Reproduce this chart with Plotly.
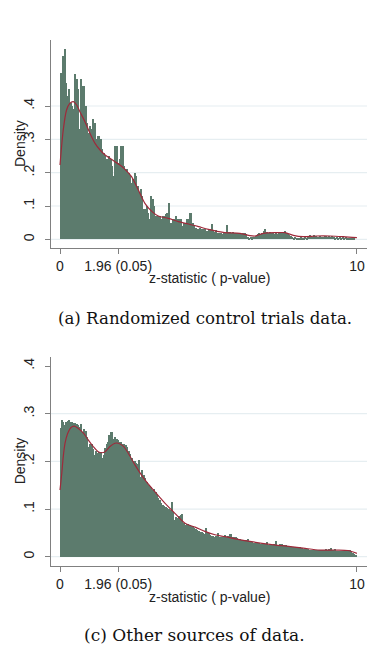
import plotly.graph_objects as go

# ---------------- data ----------------
bin_width = 0.05  # histogram bin width (z units)

# (a) Randomized control trials: histogram densities, bins of 0.05 from 0 to 10
rct_bars = [
    0.50, 0.46, 0.55, 0.57, 0.47, 0.43, 0.45, 0.41, 0.40, 0.39,
    0.495, 0.48, 0.45, 0.33, 0.48, 0.46, 0.46, 0.40, 0.35, 0.32,
    0.34, 0.33, 0.36, 0.35, 0.30, 0.31, 0.31, 0.30, 0.27, 0.26,
    0.25, 0.24, 0.20, 0.25, 0.24, 0.22, 0.19, 0.28, 0.28, 0.23,
    0.24, 0.28, 0.28, 0.22, 0.21, 0.21, 0.20, 0.19, 0.17, 0.18,
    0.20, 0.19, 0.16, 0.14, 0.15, 0.13, 0.09, 0.09, 0.10, 0.08,
    0.06, 0.13, 0.12, 0.10, 0.07, 0.05, 0.07, 0.07, 0.06, 0.07,
    0.07, 0.075, 0.08, 0.11, 0.05, 0.05, 0.06, 0.06, 0.07, 0.06,
    0.06, 0.06, 0.04, 0.05, 0.05, 0.06, 0.06, 0.08, 0.08, 0.05,
    0.04, 0.035, 0.03, 0.03, 0.035, 0.03, 0.03, 0.03, 0.025, 0.025,
    0.03, 0.03, 0.045, 0.025, 0.022, 0.028, 0.018, 0.018, 0.02, 0.015,
    0.018, 0.02, 0.043, 0.022, 0.023, 0.02, 0.022, 0.02, 0.018, 0.02,
    0.018, 0.018, 0.015, 0.02, 0.018, 0.016, 0.008, 0.005, 0.006, 0.005,
    0.008, 0.006, 0.01, 0.015, 0.018, 0.017, 0.02, 0.025, 0.03, 0.022,
    0.02, 0.022, 0.018, 0.02, 0.016, 0.018, 0.017, 0.02, 0.022, 0.02,
    0.023, 0.025, 0.02, 0.015, 0.012, 0.01, 0.008, 0.005, 0.006, 0.004,
    0.005, 0.003, 0.006, 0.004, 0.005, 0.006, 0.004, 0.009, 0.012, 0.01,
    0.008, 0.012, 0.01, 0.008, 0.006, 0.01, 0.008, 0.006, 0.01, 0.009,
    0.006, 0.01, 0.008, 0.009, 0.006, 0.005, 0.006, 0.005, 0.006, 0.005,
    0.006, 0.005, 0.006, 0.004, 0.005, 0.004, 0.005, 0.003, 0.002, 0.0,
]

# (c) Other sources of data: histogram densities, bins of 0.05 from 0 to 10
other_bars = [
    0.27, 0.287, 0.283, 0.276, 0.283, 0.285, 0.287, 0.283, 0.283, 0.281,
    0.281, 0.280, 0.276, 0.272, 0.280, 0.262, 0.268, 0.265, 0.252, 0.230,
    0.238, 0.236, 0.226, 0.213, 0.222, 0.218, 0.220, 0.220, 0.207, 0.213,
    0.228, 0.236, 0.241, 0.255, 0.262, 0.262, 0.248, 0.252, 0.248, 0.245,
    0.241, 0.241, 0.238, 0.238, 0.234, 0.230, 0.222, 0.217, 0.208, 0.202,
    0.201, 0.198, 0.196, 0.203, 0.168, 0.182, 0.172, 0.165, 0.158, 0.152,
    0.148, 0.146, 0.140, 0.142, 0.136, 0.130, 0.123, 0.120, 0.113, 0.110,
    0.106, 0.104, 0.103, 0.101, 0.098, 0.116, 0.095, 0.078, 0.084, 0.081,
    0.087, 0.089, 0.090, 0.071, 0.067, 0.069, 0.069, 0.067, 0.064, 0.066,
    0.060, 0.058, 0.056, 0.055, 0.053, 0.053, 0.051, 0.049, 0.060, 0.053,
    0.050, 0.047, 0.045, 0.044, 0.043, 0.044, 0.051, 0.043, 0.042, 0.041,
    0.043, 0.047, 0.042, 0.044, 0.048, 0.049, 0.041, 0.041, 0.043, 0.039,
    0.038, 0.037, 0.036, 0.036, 0.035, 0.035, 0.038, 0.034, 0.033, 0.031,
    0.029, 0.029, 0.031, 0.030, 0.029, 0.028, 0.028, 0.027, 0.028, 0.032,
    0.026, 0.026, 0.025, 0.026, 0.027, 0.033, 0.026, 0.026, 0.028, 0.028,
    0.026, 0.026, 0.025, 0.024, 0.024, 0.022, 0.022, 0.021, 0.021, 0.021,
    0.020, 0.020, 0.019, 0.019, 0.016, 0.017, 0.017, 0.016, 0.015, 0.015,
    0.014, 0.014, 0.014, 0.014, 0.014, 0.014, 0.014, 0.014, 0.014, 0.016,
    0.015, 0.017, 0.018, 0.015, 0.014, 0.016, 0.013, 0.013, 0.013, 0.013,
    0.013, 0.012, 0.013, 0.013, 0.014, 0.015, 0.011, 0.009, 0.006, 0.005,
]

# kernel density curves (read points)
rct_curve_z = [0, 0.11, 0.22, 0.33, 0.45, 0.56, 0.67, 0.84, 1.01, 1.18, 1.35, 1.52,
               1.68, 1.85, 2.02, 2.19, 2.41, 2.64, 2.86, 3.1, 3.31, 3.65, 3.99, 4.33,
               4.67, 5.0, 5.5, 6.06, 6.4, 6.57, 6.85, 7.3, 7.58, 7.86, 8.19, 8.64,
               9.09, 9.54, 10.0]
rct_curve_d = [0.223, 0.328, 0.388, 0.408, 0.413, 0.403, 0.383, 0.353, 0.318, 0.288,
               0.268, 0.253, 0.243, 0.233, 0.223, 0.21, 0.188, 0.148, 0.108, 0.083,
               0.070, 0.063, 0.053, 0.046, 0.038, 0.030, 0.021, 0.018, 0.011, 0.010,
               0.018, 0.020, 0.020, 0.012, 0.008, 0.010, 0.010, 0.008, 0.005]

other_curve_z = [0, 0.06, 0.11, 0.17, 0.26, 0.37, 0.48, 0.62, 0.79, 0.95, 1.12, 1.29,
                 1.40, 1.52, 1.68, 1.85, 1.96, 2.13, 2.3, 2.53, 2.86, 3.2, 3.54, 3.87,
                 4.21, 4.55, 4.88, 5.22, 5.56, 5.95, 6.51, 7.07, 7.63, 8.19, 8.75,
                 9.31, 9.7, 10.0]
other_curve_d = [0.140, 0.175, 0.210, 0.238, 0.259, 0.271, 0.274, 0.269, 0.259, 0.245,
                 0.231, 0.220, 0.218, 0.220, 0.231, 0.238, 0.238, 0.232, 0.217, 0.192,
                 0.161, 0.136, 0.112, 0.091, 0.070, 0.062, 0.053, 0.046, 0.042, 0.037,
                 0.031, 0.026, 0.022, 0.018, 0.014, 0.014, 0.013, 0.007]

x_tickvals = [0, 1.96, 10]
x_ticktext = ["0", "1.96 (0.05)", "10"]
y_tickvals = [0, 0.1, 0.2, 0.3, 0.4]
y_ticktext = ["0", ".1", ".2", ".3", ".4"]
rct_grid = [0, 0.1, 0.2, 0.3, 0.4]
other_grid = [0, 0.1, 0.2, 0.3]
x_title = "z-statistic ( p-value)"
y_title = "Density"
captions = ["(a) Randomized control trials data.", "(c) Other sources of data."]

# ---------------- style ----------------
BAR = "#5c7b6d"
LINE = "#9e2a3a"
AXIS = "#808080"
GRID = "#e6eef1"
TXT = "#222"
SANS = "Liberation Sans, Arial, sans-serif"
SERIF = "DejaVu Serif, serif"
W, H = 376, 653

fig = go.Figure()

panels = [
    (rct_bars, rct_curve_z, rct_curve_d, "x", "y"),
    (other_bars, other_curve_z, other_curve_d, "x2", "y2"),
]
for bars, cz, cd, xa, ya in panels:
    centers = [(i + 0.5) * bin_width for i in range(len(bars))]
    fig.add_trace(go.Bar(
        x=centers, y=bars, width=bin_width, xaxis=xa, yaxis=ya,
        marker=dict(color=BAR, line=dict(width=0)), showlegend=False,
        hoverinfo="skip"))
    fig.add_trace(go.Scatter(
        x=cz, y=cd, xaxis=xa, yaxis=ya, mode="lines",
        line=dict(color=LINE, width=1.2, shape="spline", smoothing=0.8),
        showlegend=False, hoverinfo="skip"))

xdom = [51 / W, 367 / W]
common_x = dict(
    domain=xdom, range=[-0.303, 10.34], tickmode="array",
    tickvals=x_tickvals, ticktext=x_ticktext, ticks="outside", ticklen=5,
    tickcolor=AXIS, showline=True, linecolor=AXIS, linewidth=1.2,
    showgrid=False, zeroline=False,
    tickfont=dict(family=SANS, size=14, color=TXT),
)
# major ticks are invisible and long (to push labels out); visible short ticks via minor
common_y = dict(
    tickmode="array", tickvals=y_tickvals, ticktext=y_ticktext, tickangle=-90,
    ticks="outside", ticklen=10, tickcolor="rgba(0,0,0,0)", showline=True,
    linecolor=AXIS, linewidth=1.2, showgrid=False, zeroline=False,
    minor=dict(tickmode="array", tickvals=y_tickvals, ticks="outside", ticklen=5,
               tickcolor=AXIS, showgrid=False),
    tickfont=dict(family=SANS, size=14, color=TXT),
)

top_dom = [1 - 248 / H, 1 - 40 / H]
bot_dom = [1 - 566 / H, 1 - 356.7 / H]
fig.update_layout(
    width=W, height=H, margin=dict(l=0, r=0, t=0, b=0),
    paper_bgcolor="white", plot_bgcolor="white", bargap=0, showlegend=False,
    xaxis=dict(common_x, anchor="y"),
    yaxis=dict(common_y, anchor="x", domain=top_dom, range=[-0.026, 0.598]),
    xaxis2=dict(common_x, anchor="y2"),
    yaxis2=dict(common_y, anchor="x2", domain=bot_dom, range=[-0.0195, 0.4195]),
)

shapes = []
for v in rct_grid:
    shapes.append(dict(type="line", xref="x domain", yref="y", x0=0, x1=1, y0=v, y1=v,
                       line=dict(color=GRID, width=1.2), layer="below"))
for v in other_grid:
    shapes.append(dict(type="line", xref="x2 domain", yref="y2", x0=0, x1=1, y0=v, y1=v,
                       line=dict(color=GRID, width=1.2), layer="below"))
fig.update_layout(shapes=shapes)

# axis titles
for dom, ytitle_px in ((top_dom, 278), (bot_dom, 596.7)):
    fig.add_annotation(text=y_title, xref="paper", yref="paper", x=20 / W,
                       y=(dom[0] + dom[1]) / 2, textangle=-90, showarrow=False,
                       xanchor="center", yanchor="middle",
                       font=dict(family=SANS, size=14, color=TXT))
    fig.add_annotation(text=x_title, xref="paper", yref="paper", x=209 / W,
                       y=1 - ytitle_px / H, showarrow=False,
                       xanchor="center", yanchor="middle",
                       font=dict(family=SANS, size=14, color=TXT))

fig.add_annotation(text=captions[0], xref="paper", yref="paper", x=205 / W, y=1 - 318 / H,
                   xanchor="center", yanchor="middle", showarrow=False,
                   font=dict(family=SERIF, size=16.6, color="#111"))
fig.add_annotation(text=captions[1], xref="paper", yref="paper", x=195 / W, y=1 - 635 / H,
                   xanchor="center", yanchor="middle", showarrow=False,
                   font=dict(family=SERIF, size=17, color="#111"))

fig.write_html(
    "out.html",
    config={"displayModeBar": False},
    post_script="document.body.style.margin='0px';document.body.style.overflow='hidden';",
)
